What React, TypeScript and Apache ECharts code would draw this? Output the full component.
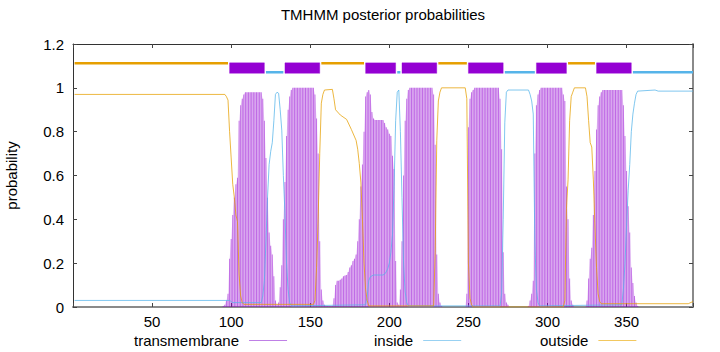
import React, { useEffect, useRef } from 'react';
import * as echarts from 'echarts';

const FONT = '"Liberation Sans", Arial, Helvetica, sans-serif';
const TM_COLOR = '#9400d3';
const IN_COLOR = '#56b4e9';
const OUT_COLOR = '#e69f00';

const titleText = 'TMHMM posterior probabilities';
const yName = 'probability';
const legendNames = ['transmembrane', 'inside', 'outside'];

// x axis
const xMin = 0;
const xMax = 392;
const xInterval = 50;
// y axis
const yMin = 0;
const yMax = 1.2;
const yInterval = 0.2;

// posterior probability of transmembrane, one value per residue 1..392
const tmProb = [
  // 1-10
  0, 0, 0, 0, 0, 0, 0, 0, 0, 0,
  // 11-20
  0, 0, 0, 0, 0, 0, 0, 0, 0, 0,
  // 21-30
  0, 0, 0, 0, 0, 0, 0, 0, 0, 0,
  // 31-40
  0, 0, 0, 0, 0, 0, 0, 0, 0, 0,
  // 41-50
  0, 0, 0, 0, 0, 0, 0, 0, 0, 0,
  // 51-60
  0, 0, 0, 0, 0, 0, 0, 0, 0, 0,
  // 61-70
  0, 0, 0, 0, 0, 0, 0, 0, 0, 0,
  // 71-80
  0, 0, 0, 0, 0, 0, 0, 0, 0, 0,
  // 81-90
  0, 0, 0, 0, 0, 0, 0, 0, 0, 0,
  // 91-100
  0, 0, 0, 0, 0.005, 0.01, 0.03, 0.06, 0.22, 0.31,
  // 101-110
  0.42, 0.5, 0.56, 0.59, 0.85, 0.92, 0.95, 0.97, 0.98, 0.98,
  // 111-120
  0.98, 0.98, 0.98, 0.98, 0.98, 0.98, 0.98, 0.98, 0.98, 0.95,
  // 121-130
  0.85, 0.68, 0.5, 0.34, 0.28, 0.24, 0.14, 0.03, 0.01, 0.02,
  // 131-140
  0.09, 0.19, 0.4, 0.57, 0.78, 0.9, 0.96, 0.99, 1, 1,
  // 141-150
  1, 1, 1, 1, 1, 1, 1, 1, 1, 1,
  // 151-160
  1, 1, 0.97, 0.86, 0.7, 0.3, 0.08, 0.03, 0.01, 0.005,
  // 161-170
  0.005, 0.005, 0.005, 0.005, 0.04, 0.1, 0.12, 0.12, 0.124, 0.13,
  // 171-180
  0.14, 0.144, 0.146, 0.16, 0.18, 0.19, 0.21, 0.22, 0.24, 0.3,
  // 181-190
  0.4, 0.55, 0.65, 0.8, 0.96, 0.98, 0.99, 0.97, 0.89, 0.86,
  // 191-200
  0.853, 0.853, 0.853, 0.853, 0.853, 0.853, 0.84, 0.82, 0.81, 0.79,
  // 201-210
  0.78, 0.69, 0.63, 0.21, 0.02, 0.01, 0.08, 0.3, 0.6, 0.85,
  // 211-220
  0.95, 0.99, 1, 1, 1, 1, 1, 1, 1, 1,
  // 221-230
  1, 1, 1, 1, 1, 1, 1, 0.97, 0.74, 0.24,
  // 231-240
  0.06, 0.02, 0.005, 0, 0, 0, 0, 0, 0, 0,
  // 241-250
  0, 0, 0, 0, 0, 0, 0, 0, 0.06, 0.82,
  // 251-260
  0.95, 0.98, 0.99, 1, 1, 1, 1, 1, 1, 1,
  // 261-270
  1, 1, 1, 1, 1, 1, 1, 1, 1, 0.95,
  // 271-280
  0.72, 0.25, 0.06, 0.02, 0.01, 0, 0, 0, 0, 0,
  // 281-290
  0, 0, 0, 0, 0, 0, 0, 0.005, 0.03, 0.06,
  // 291-300
  0.12, 0.7, 0.92, 0.97, 0.99, 1, 1, 1, 1, 1,
  // 301-310
  1, 1, 1, 1, 1, 1, 1, 1, 1, 0.97,
  // 311-320
  0.94, 0.55, 0.4, 0.13, 0.03, 0.01, 0, 0, 0, 0,
  // 321-330
  0, 0, 0, 0, 0.03, 0.13, 0.22, 0.27, 0.42, 0.62,
  // 331-340
  0.81, 0.92, 0.96, 0.98, 0.99, 0.99, 0.99, 0.99, 0.99, 0.99,
  // 341-350
  0.99, 0.99, 0.99, 0.99, 0.99, 0.99, 0.99, 0.92, 0.78, 0.62,
  // 351-360
  0.46, 0.34, 0.18, 0.11, 0.05, 0.02, 0.005, 0, 0, 0,
  // 361-370
  0, 0, 0, 0, 0, 0, 0, 0, 0, 0,
  // 371-380
  0, 0, 0, 0, 0, 0, 0, 0, 0, 0,
  // 381-390
  0, 0, 0, 0, 0, 0, 0, 0, 0, 0,
  // 391-392
  0, 0,
];

// posterior probability of inside: [residue, probability]
const insideProb: [number, number][] = [
  [1, 0.03], [99, 0.03], [100, 0.025], [101, 0.02], [119, 0.02], [120, 0.05],
  [121, 0.12], [122, 0.3], [123, 0.5], [124, 0.65], [125, 0.71], [126, 0.75],
  [127, 0.85], [128, 0.97], [129, 0.98], [130, 0.975], [131, 0.9], [132, 0.807],
  [133, 0.6], [134, 0.427], [135, 0.2], [136, 0.08], [137, 0.02], [138, 0.005],
  [185, 0.01], [186, 0.05], [187, 0.12], [188, 0.138], [190, 0.146], [196, 0.146],
  [197, 0.15], [198, 0.16], [199, 0.175], [200, 0.2], [201, 0.25], [202, 0.33],
  [203, 0.55], [204, 0.85], [205, 0.98], [206, 0.99], [207, 0.8], [208, 0.5],
  [209, 0.2], [210, 0.07], [211, 0.02], [212, 0.005], [270, 0.005], [271, 0.06],
  [272, 0.4], [273, 0.84], [274, 0.98], [275, 0.99], [288, 0.99], [289, 0.97],
  [290, 0.94], [291, 0.88], [292, 0.3], [293, 0.08], [294, 0.02], [295, 0.005],
  [347, 0.01], [348, 0.08], [349, 0.2], [350, 0.37], [351, 0.53], [352, 0.65],
  [353, 0.8], [354, 0.88], [355, 0.93], [356, 0.97], [357, 0.985], [368, 0.99],
  [370, 0.985], [392, 0.985],
];

// posterior probability of outside: [residue, probability]
const outsideProb: [number, number][] = [
  [1, 0.97], [96, 0.97], [97, 0.96], [98, 0.944], [99, 0.8], [100, 0.68],
  [101, 0.56], [102, 0.5], [103, 0.42], [104, 0.39], [105, 0.15], [106, 0.05],
  [107, 0.02], [108, 0.012], [152, 0.012], [153, 0.03], [154, 0.18], [155, 0.4],
  [156, 0.7], [157, 0.93], [158, 0.97], [159, 0.99], [164, 0.993], [165, 0.95],
  [166, 0.9], [169, 0.876], [173, 0.856], [176, 0.81], [179, 0.76], [180, 0.72],
  [181, 0.655], [182, 0.57], [183, 0.4], [184, 0.2], [185, 0.08], [186, 0.03],
  [187, 0.005], [228, 0.005], [229, 0.25], [230, 0.76], [231, 0.94], [232, 0.98],
  [233, 1.0], [248, 1.0], [249, 0.95], [250, 0.2], [251, 0.04], [252, 0.01],
  [253, 0.0], [310, 0.0], [311, 0.03], [312, 0.45], [313, 0.58], [314, 0.85],
  [315, 0.96], [316, 0.98], [317, 1.0], [324, 1.0], [325, 0.96], [326, 0.85],
  [327, 0.75], [328, 0.73], [329, 0.58], [330, 0.37], [331, 0.18], [332, 0.06],
  [333, 0.025], [334, 0.015], [389, 0.015], [392, 0.025],
];

// predicted topology segments
const topoStart = [1, 99, 122, 134, 157, 185, 205, 208, 231, 250, 273, 293, 313, 331, 354];
const topoEnd = [98, 121, 133, 156, 184, 204, 207, 230, 249, 272, 292, 312, 330, 353, 392];
const topoKind = ['outside', 'TMhelix', 'inside', 'TMhelix', 'outside', 'TMhelix', 'inside', 'TMhelix', 'outside', 'TMhelix', 'inside', 'TMhelix', 'outside', 'TMhelix', 'inside'];

export default function App() {
  const ref = useRef<HTMLDivElement>(null);

  useEffect(() => {
    if (!ref.current) return;
    const chart = echarts.init(ref.current, null, { renderer: 'svg' });

    const tmData = tmProb.map((v, i) => [i + 1, v]);
    const topoData = topoStart.map((s, i) => [
      s,
      topoEnd[i],
      topoKind[i] === 'TMhelix' ? 1 : topoKind[i] === 'inside' ? 2 : 0,
    ]);

    const labelStyle = { fontSize: 15, color: '#000', fontFamily: FONT };
    const legendBase = {
      top: 333,
      padding: 0,
      align: 'right' as const,
      itemWidth: 38,
      itemHeight: 1,
      selectedMode: false,
      textStyle: { fontSize: 15, color: '#000', fontFamily: FONT, padding: [0, 5, 0, 0] },
    };

    chart.setOption({
      animation: false,
      backgroundColor: '#ffffff',
      textStyle: { fontFamily: FONT },
      title: {
        text: titleText,
        left: 383,
        top: 7,
        padding: 0,
        textAlign: 'center',
        textStyle: { fontSize: 15, fontWeight: 'normal', color: '#000', fontFamily: FONT },
      },
      legend: [
        { ...legendBase, left: 134, data: [{ name: legendNames[0], icon: 'rect', itemStyle: { color: '#bf80e6' } }] },
        { ...legendBase, left: 374, data: [{ name: legendNames[1], icon: 'rect', itemStyle: { color: '#98d1f2' } }] },
        { ...legendBase, left: 540, data: [{ name: legendNames[2], icon: 'rect', itemStyle: { color: '#f2c860' } }] },
      ],
      grid: { left: 73, right: 27, top: 44, bottom: 45, containLabel: false, outerBoundsMode: 'none' },
      xAxis: [
        {
          type: 'value',
          min: xMin,
          max: xMax,
          interval: xInterval,
          position: 'bottom',
          axisLine: { show: true, onZero: false, lineStyle: { color: '#8a8a8a', width: 2 } },
          axisTick: { show: true, inside: true, length: 4, lineStyle: { color: '#444' } },
          axisLabel: {
            ...labelStyle,
            margin: 7,
            formatter: (v: number) => (v > 0 && v % 50 === 0 ? String(v) : ''),
          },
          splitLine: { show: false },
        },
        {
          type: 'value',
          min: xMin,
          max: xMax,
          interval: xInterval,
          position: 'top',
          axisLine: { show: true, onZero: false, lineStyle: { color: '#333', width: 1 } },
          axisTick: { show: true, inside: true, length: 4, lineStyle: { color: '#444' } },
          axisLabel: { show: false },
          splitLine: { show: false },
        },
      ],
      yAxis: [
        {
          type: 'value',
          min: yMin,
          max: yMax,
          interval: yInterval,
          position: 'left',
          name: yName,
          nameLocation: 'middle',
          nameGap: 54,
          nameRotate: 90,
          nameTextStyle: { fontSize: 15, color: '#000', fontFamily: FONT },
          axisLine: { show: true, onZero: false, lineStyle: { color: '#333', width: 1 } },
          axisTick: { show: true, inside: true, length: 4, lineStyle: { color: '#444' } },
          axisLabel: { ...labelStyle, margin: 9 },
          splitLine: { show: false },
        },
        {
          type: 'value',
          min: yMin,
          max: yMax,
          interval: yInterval,
          position: 'right',
          axisLine: { show: true, onZero: false, lineStyle: { color: '#8a8a8a', width: 2 } },
          axisTick: { show: true, inside: true, length: 4, lineStyle: { color: '#444' } },
          axisLabel: { show: false },
          splitLine: { show: false },
        },
      ],
      series: [
        {
          name: 'tmArea',
          type: 'line',
          data: tmData,
          symbol: 'none',
          silent: true,
          z: 1,
          lineStyle: { width: 0, opacity: 0 },
          areaStyle: { color: 'rgba(148,0,211,0.25)' },
        },
        {
          name: legendNames[0],
          type: 'bar',
          data: tmData,
          barWidth: 1,
          z: 2,
          itemStyle: { color: 'rgba(148,0,211,0.5)' },
        },
        {
          name: 'topology',
          type: 'custom',
          data: topoData,
          encode: { x: [0, 1] },
          z: 5,
          silent: true,
          renderItem: (_params: any, api: any) => {
            const s = api.value(0);
            const e = api.value(1);
            const k = api.value(2);
            if (k === 1) {
              const p1 = api.coord([s, 1.114]);
              const p2 = api.coord([e, 1.066]);
              return {
                type: 'rect',
                shape: { x: p1[0], y: p1[1], width: p2[0] - p1[0], height: p2[1] - p1[1] },
                style: { fill: TM_COLOR, stroke: 'rgba(148,0,211,0.35)', lineWidth: 1 },
              };
            }
            const yv = k === 0 ? 1.112 : 1.071;
            const a = api.coord([s, yv]);
            const b = api.coord([e, yv]);
            return {
              type: 'line',
              shape: { x1: a[0], y1: a[1], x2: b[0], y2: b[1] },
              style: { stroke: k === 0 ? OUT_COLOR : IN_COLOR, lineWidth: 2.5 },
            };
          },
        },
        {
          name: legendNames[1],
          type: 'line',
          data: insideProb,
          symbol: 'none',
          z: 3,
          lineStyle: { color: IN_COLOR, width: 1, opacity: 0.75 },
          itemStyle: { color: IN_COLOR },
        },
        {
          name: legendNames[2],
          type: 'line',
          data: outsideProb,
          symbol: 'none',
          z: 4,
          lineStyle: { color: OUT_COLOR, width: 1, opacity: 0.75 },
          itemStyle: { color: OUT_COLOR },
        },
      ],
    });

    return () => {
      chart.dispose();
    };
  }, []);

  return (
    <div
      ref={ref}
      style={{ position: 'fixed', left: 0, top: 0, width: 720, height: 352, background: '#fff' }}
    />
  );
}
